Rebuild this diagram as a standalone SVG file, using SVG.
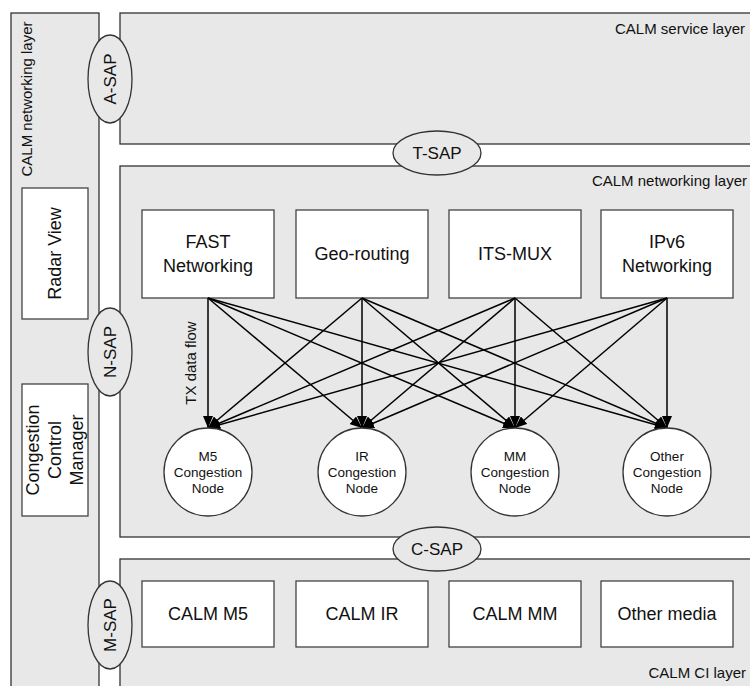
<svg xmlns="http://www.w3.org/2000/svg" width="750" height="686" viewBox="0 0 750 686">
<style>
.layer{fill:#e8e8e8;stroke:#333;stroke-width:1.3}
.box{fill:#fff;stroke:#444;stroke-width:1.3}
.sap{fill:#e8e8e8;stroke:#333;stroke-width:1.3}
.node{fill:#fff;stroke:#333;stroke-width:1.3}
text{font-family:"Liberation Sans",Arial,sans-serif;fill:#111}
.lbl{font-size:15px;text-anchor:end}
.bt{font-size:18px;text-anchor:middle}
.st{font-size:17px;text-anchor:middle}
.nt{font-size:13.5px;text-anchor:middle}
.edge{stroke:#000;stroke-width:1.5;fill:none;marker-end:url(#ah)}
</style>
<defs>
<marker id="ah" viewBox="0 0 12 10" refX="12" refY="5" markerWidth="12" markerHeight="10" markerUnits="userSpaceOnUse" orient="auto">
<path d="M0,0 L12,5 L0,10 Z" fill="#000"/>
</marker>
</defs>
<rect width="750" height="686" fill="#fff"/>

<g id="left-panel">
<rect class="layer" x="11" y="13" width="88" height="700"/>
<text style="font-size:15px" text-anchor="middle" transform="translate(32,99) rotate(-90)">CALM networking layer</text>
</g>
<g id="service-layer">
<rect class="layer" x="120" y="13" width="700" height="131"/>
<text class="lbl" x="745" y="34">CALM service layer</text>
</g>
<g id="networking-layer">
<rect class="layer" x="120" y="166" width="700" height="371"/>
<text class="lbl" x="747" y="186">CALM networking layer</text>
</g>
<g id="ci-layer">
<rect class="layer" x="120" y="559" width="700" height="200"/>
<text class="lbl" x="746" y="678">CALM CI layer</text>
</g>

<g id="radar-view">
<rect class="box" x="22" y="188" width="66" height="131"/>
<text class="bt" transform="translate(61,253.5) rotate(-90)">Radar View</text>
</g>
<g id="congestion-control-manager">
<rect class="box" x="22" y="384" width="66" height="132"/>
<text class="bt" transform="translate(55,450) rotate(-90)"><tspan x="0" y="-16">Congestion</tspan><tspan x="0" y="6">Control</tspan><tspan x="0" y="28">Manager</tspan></text>
</g>

<g id="a-sap"><ellipse class="sap" cx="110" cy="79" rx="22" ry="44"/><text class="st" transform="translate(116,79) rotate(-90)">A-SAP</text></g>
<g id="n-sap"><ellipse class="sap" cx="110" cy="352" rx="22" ry="44"/><text class="st" transform="translate(116,352) rotate(-90)">N-SAP</text></g>
<g id="m-sap"><ellipse class="sap" cx="110" cy="625" rx="22" ry="44"/><text class="st" transform="translate(116,625) rotate(-90)">M-SAP</text></g>
<g id="t-sap"><ellipse class="sap" cx="437" cy="153" rx="44" ry="22"/><text class="st" x="437" y="159">T-SAP</text></g>
<g id="c-sap"><ellipse class="sap" cx="437" cy="549" rx="44" ry="22"/><text class="st" x="437" y="555">C-SAP</text></g>

<g id="fast-networking"><rect class="box" x="142" y="210" width="132" height="88"/><text class="bt"><tspan x="208" y="248">FAST</tspan><tspan x="208" y="272">Networking</tspan></text></g>
<g id="geo-routing"><rect class="box" x="296" y="210" width="132" height="88"/><text class="bt" x="362" y="260">Geo-routing</text></g>
<g id="its-mux"><rect class="box" x="449" y="210" width="132" height="88"/><text class="bt" x="515" y="260">ITS-MUX</text></g>
<g id="ipv6-networking"><rect class="box" x="601" y="210" width="132" height="88"/><text class="bt"><tspan x="667" y="248">IPv6</tspan><tspan x="667" y="272">Networking</tspan></text></g>

<g id="connectors">
<path class="edge" d="M208,298 L208,428"/>
<path class="edge" d="M208,298 L362,428"/>
<path class="edge" d="M208,298 L515,428"/>
<path class="edge" d="M208,298 L667,428"/>
<path class="edge" d="M362,298 L208,428"/>
<path class="edge" d="M362,298 L362,428"/>
<path class="edge" d="M362,298 L515,428"/>
<path class="edge" d="M362,298 L667,428"/>
<path class="edge" d="M515,298 L208,428"/>
<path class="edge" d="M515,298 L362,428"/>
<path class="edge" d="M515,298 L515,428"/>
<path class="edge" d="M515,298 L667,428"/>
<path class="edge" d="M667,298 L208,428"/>
<path class="edge" d="M667,298 L362,428"/>
<path class="edge" d="M667,298 L515,428"/>
<path class="edge" d="M667,298 L667,428"/>
<text style="font-size:15px" text-anchor="middle" transform="translate(196,363) rotate(-90)">TX data flow</text>
</g>

<g id="m5-node"><circle class="node" cx="208" cy="472" r="44"/><text class="nt"><tspan x="208" y="461">M5</tspan><tspan x="208" y="477">Congestion</tspan><tspan x="208" y="493">Node</tspan></text></g>
<g id="ir-node"><circle class="node" cx="362" cy="472" r="44"/><text class="nt"><tspan x="362" y="461">IR</tspan><tspan x="362" y="477">Congestion</tspan><tspan x="362" y="493">Node</tspan></text></g>
<g id="mm-node"><circle class="node" cx="515" cy="472" r="44"/><text class="nt"><tspan x="515" y="461">MM</tspan><tspan x="515" y="477">Congestion</tspan><tspan x="515" y="493">Node</tspan></text></g>
<g id="other-node"><circle class="node" cx="667" cy="472" r="44"/><text class="nt"><tspan x="667" y="461">Other</tspan><tspan x="667" y="477">Congestion</tspan><tspan x="667" y="493">Node</tspan></text></g>

<g id="calm-m5"><rect class="box" x="142" y="581" width="132" height="66"/><text class="bt" x="208" y="620">CALM M5</text></g>
<g id="calm-ir"><rect class="box" x="296" y="581" width="132" height="66"/><text class="bt" x="362" y="620">CALM IR</text></g>
<g id="calm-mm"><rect class="box" x="449" y="581" width="132" height="66"/><text class="bt" x="515" y="620">CALM MM</text></g>
<g id="other-media"><rect class="box" x="601" y="581" width="132" height="66"/><text class="bt" x="667" y="620">Other media</text></g>
</svg>
